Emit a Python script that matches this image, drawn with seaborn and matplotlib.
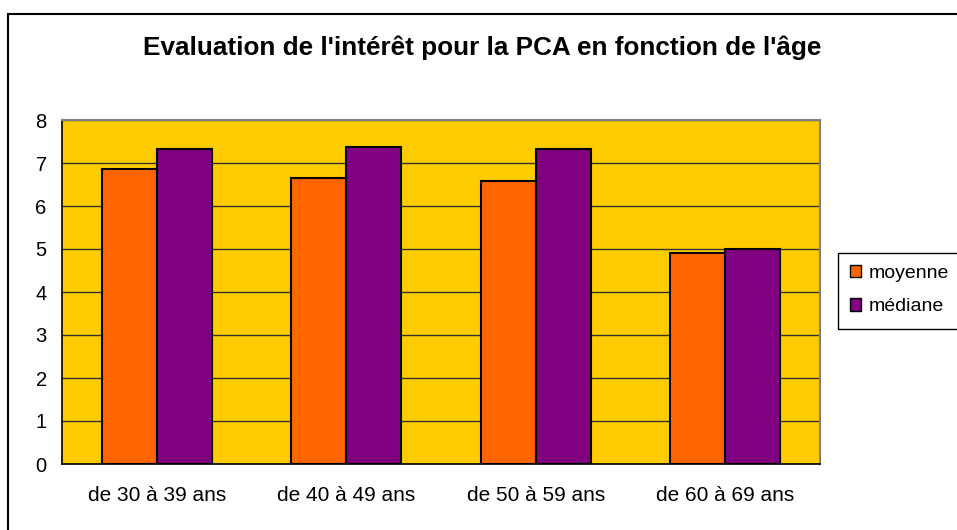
import pandas as pd
import matplotlib.pyplot as plt
import seaborn as sns
from matplotlib.patches import Rectangle

# data
tranches = ["de 30 à 39 ans", "de 40 à 49 ans", "de 50 à 59 ans", "de 60 à 69 ans"]
moyenne = [6.85, 6.66, 6.59, 4.91]
mediane = [7.33, 7.38, 7.33, 5.0]
series = ["moyenne", "médiane"]
couleurs = ["#FF6600", "#800080"]

df = pd.DataFrame({
    "tranche": tranches * 2,
    "valeur": moyenne + mediane,
    "serie": [series[0]] * 4 + [series[1]] * 4,
})

sns.set_style("white")
plt.rcParams["font.family"] = ["Liberation Sans", "DejaVu Sans"]
plt.rcParams["text.color"] = "black"
plt.rcParams["xtick.color"] = "black"
plt.rcParams["ytick.color"] = "black"

W, H = 957, 530
fig = plt.figure(figsize=(W / 100, H / 100), dpi=100)
ax = fig.add_axes([62 / W, 66 / H, 758 / W, 344 / H])

sns.barplot(data=df, x="tranche", y="valeur", hue="serie", palette=couleurs,
            saturation=1, width=0.58, edgecolor="black", linewidth=1.5, ax=ax, zorder=3)

ax.set_facecolor("#FFCC00")
ax.set_ylim(0, 8)
ax.set_xlim(-0.5, 3.5)
ax.set_yticks(range(0, 9))
ax.yaxis.grid(True, color="#333333", linewidth=1, zorder=0)
ax.set_axisbelow(True)
ax.set_xlabel("")
ax.set_ylabel("")

# category tick marks sit between the groups
ax.set_xticks([-0.5, 0.5, 1.5, 2.5, 3.5], minor=True)
ax.tick_params(axis="x", which="major", length=0, pad=16, labelsize=15)
ax.tick_params(axis="x", which="minor", length=5, width=1, color="black", direction="out")
ax.tick_params(axis="y", length=6, width=1, color="black", direction="out", labelsize=14.5, pad=5)

for side in ["top", "right"]:
    ax.spines[side].set_color("#808080")
    ax.spines[side].set_linewidth(1.5)
for side in ["left", "bottom"]:
    ax.spines[side].set_color("black")
    ax.spines[side].set_linewidth(1.2)

# legend: box runs past the right edge of the picture, as in the original
ax.legend_.remove()
handles = [Rectangle((0, 0), 1, 1, facecolor=c, edgecolor="black", linewidth=1) for c in couleurs]
fig.legend(handles, series, loc="upper left", bbox_to_anchor=(838 / W, 1 - 253 / H),
           fontsize=14, frameon=False,
           handlelength=0.6, handleheight=0.6, handletextpad=0.4,
           labelspacing=0.85, borderpad=0.6, borderaxespad=0)
fig.patches.append(Rectangle((838 / W, 1 - 329 / H), 140 / W, 76 / H, transform=fig.transFigure,
                             fill=False, edgecolor="black", linewidth=1))

fig.text(0.5 * (143 + 822) / W, 1 - 48 / H,
         "Evaluation de l'intérêt pour la PCA en fonction de l'âge",
         ha="center", va="center", fontsize=18.8, fontweight="bold")

# outer chart border, only its top and left sides fall inside the picture
fig.patches.append(Rectangle((8 / W, -0.05), 1.1, 1.05 - 14 / H, transform=fig.transFigure,
                             fill=False, edgecolor="black", linewidth=1.5))

fig.savefig("out.png", dpi=100)
